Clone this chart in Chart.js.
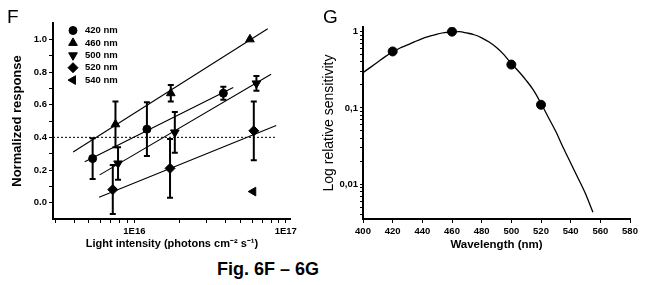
<!DOCTYPE html>
<html>
<head>
<meta charset="utf-8">
<script src="https://cdn.jsdelivr.net/npm/chart.js@4.4.1/dist/chart.umd.min.js"></script>
<style>
  html, body { margin: 0; padding: 0; background: #fff; }
  body { width: 649px; height: 285px; position: relative; overflow: hidden;
         font-family: 'Liberation Sans', Arial, sans-serif; color: #000; }
  #panelF { position: absolute; left: 0; top: 0; }
  #panelG { position: absolute; left: 300px; top: 0; }
  .letter { position: absolute; font-size: 19px; line-height: 1; }
  #caption { position: absolute; left: 168px; top: 260px; width: 200px; text-align: center;
             font-size: 18px; font-weight: bold; line-height: 1; }
</style>
</head>
<body>
<canvas id="panelF" width="300" height="255"></canvas>
<canvas id="panelG" width="349" height="255"></canvas>
<div class="letter" style="left:7px; top:7px;">F</div>
<div class="letter" style="left:323px; top:7px;">G</div>
<div id="caption">Fig. 6F – 6G</div>
<script>
// ---- panel F data ----
const seriesNames = ['420 nm', '460 nm', '500 nm', '520 nm', '540 nm'];

const intensity420 = [5.3e15, 1.21e16, 3.87e16];
const response420  = [0.27, 0.45, 0.67];
const error420     = [0.125, 0.165, 0.04];

const intensity460 = [7.5e15, 1.74e16, 5.8e16];
const response460  = [0.48, 0.67, 1.0];
const error460     = [0.14, 0.05, 0];

const intensity500 = [7.8e15, 1.85e16, 6.4e16];
const response500  = [0.24, 0.43, 0.73];
const error500     = [0.1, 0.125, 0.045];

const intensity520 = [7.2e15, 1.72e16, 6.15e16];
const response520  = [0.08, 0.21, 0.44];
const error520     = [0.15, 0.18, 0.18];

const intensity540 = [6.1e16];
const response540  = [0.068];
const error540     = [0];

// regression lines, end points
const fitX420 = [4.7e15, 4.5e16];  const fitY420 = [0.25, 0.705];
const fitX460 = [3.94e15, 7.6e16]; const fitY460 = [0.31, 1.065];
const fitX500 = [5.9e15, 8.0e16];  const fitY500 = [0.17, 0.786];
const fitX520 = [5.85e15, 8.65e16]; const fitY520 = [0.033, 0.472];

// threshold (dotted)
const thresholdX = [2.9e15, 8.6e16];
const thresholdY = [0.4, 0.4];

const xLabelsF = { 1e16: '1E16', 1e17: '1E17' };
const yLabelsF = ['0.0', '0.2', '0.4', '0.6', '0.8', '1.0'];

// ---- panel G data ----
const curveWavelength  = [400, 405, 410, 415, 420, 425, 430, 435, 440, 445, 450, 455, 460, 465,
                          470, 475, 480, 485, 490, 495, 500, 505, 510, 515, 520, 525, 530, 535,
                          540, 545, 550, 555];
const curveSensitivity = [0.29, 0.34, 0.40, 0.47, 0.54, 0.61, 0.67, 0.74, 0.81, 0.87, 0.93, 0.97,
                          0.99, 1.0, 0.96, 0.91, 0.83, 0.73, 0.62, 0.50, 0.38, 0.30, 0.23, 0.17,
                          0.115, 0.075, 0.049, 0.030, 0.019, 0.012, 0.0075, 0.0043];
const pointWavelength  = [420, 460, 500, 520];
const pointSensitivity = [0.55, 1.0, 0.37, 0.11];
const yLabelsG = { 1: '1', 0.1: '0,1', 0.01: '0,01' };

Chart.defaults.font.family = "'Liberation Sans', Arial, sans-serif";
Chart.defaults.color = '#000';

const tickFont = { size: 9.5, weight: 'bold' };

function pairs(xs, ys) { return xs.map((x, i) => ({ x: x, y: ys[i] })); }

function markerSet(label, xs, ys, errs, style, rot, r) {
  return {
    label: label, data: pairs(xs, ys), errors: errs, showLine: false,
    pointStyle: style, rotation: rot, pointRadius: r, pointHoverRadius: r,
    backgroundColor: '#000', borderColor: '#000', borderWidth: 1, inLegend: true
  };
}
function lineSet(xs, ys, dash) {
  return {
    data: pairs(xs, ys), showLine: true, pointRadius: 0, borderColor: '#000',
    borderWidth: dash ? 1 : 1.1, borderDash: dash || [], fill: false
  };
}

// error bars drawn through the chart scales
const errorBars = {
  id: 'errorBars',
  beforeDatasetsDraw(chart) {
    const ctx = chart.ctx, y = chart.scales.y;
    chart.data.datasets.forEach((ds, i) => {
      if (!ds.errors) return;
      const meta = chart.getDatasetMeta(i);
      ds.data.forEach((p, j) => {
        const e = ds.errors[j];
        if (!e) return;
        const px = meta.data[j].x;
        const top = y.getPixelForValue(p.y + e), bot = y.getPixelForValue(p.y - e);
        ctx.save();
        ctx.strokeStyle = '#000';
        ctx.lineWidth = 2;
        ctx.beginPath();
        ctx.moveTo(px, top); ctx.lineTo(px, bot);
        ctx.moveTo(px - 3, top); ctx.lineTo(px + 3, top);
        ctx.moveTo(px - 3, bot); ctx.lineTo(px + 3, bot);
        ctx.stroke();
        ctx.restore();
      });
    });
  }
};

// legend in the top-left corner of the plot
const markerLegend = {
  id: 'markerLegend',
  afterDraw(chart, args, opts) {
    const ctx = chart.ctx;
    let row = 0;
    chart.data.datasets.forEach(ds => {
      if (!ds.inLegend) return;
      const yy = opts.top + row * opts.step;
      Chart.helpers.drawPoint(ctx, {
        pointStyle: ds.pointStyle, rotation: ds.rotation, radius: ds.pointRadius, borderWidth: 1
      }, opts.markerX, yy);
      ctx.save();
      ctx.fillStyle = '#000';
      ctx.font = "bold 9.5px 'Liberation Sans', Arial, sans-serif";
      ctx.textBaseline = 'middle';
      ctx.fillText(ds.label, opts.textX, yy);
      ctx.restore();
      row++;
    });
  }
};

const yTicksF = [];
for (let k = 0; k <= 10; k++) yTicksF.push(k / 10);
const xTicksF = [];
[1e15, 1e16].forEach(d => { for (let m = 1; m <= 9; m++) { const v = m * d; if (v >= 2.9e15) xTicksF.push(v); } });
xTicksF.push(1e17);

const ctxF = document.getElementById('panelF').getContext('2d');
new Chart(ctxF, {
  type: 'scatter',
  data: {
    datasets: [
      lineSet(thresholdX, thresholdY, [2, 2]),
      lineSet(fitX420, fitY420),
      lineSet(fitX460, fitY460),
      lineSet(fitX500, fitY500),
      lineSet(fitX520, fitY520),
      markerSet(seriesNames[0], intensity420, response420, error420, 'circle', 0, 4),
      markerSet(seriesNames[1], intensity460, response460, error460, 'triangle', 0, 5),
      markerSet(seriesNames[2], intensity500, response500, error500, 'triangle', 180, 5),
      markerSet(seriesNames[3], intensity520, response520, error520, 'rectRot', 0, 5),
      markerSet(seriesNames[4], intensity540, response540, error540, 'triangle', -90, 5)
    ]
  },
  options: {
    responsive: false,
    animation: false,
    devicePixelRatio: 1,
    layout: { padding: { left: 0, top: 23, right: 7, bottom: 0 } },
    plugins: {
      legend: { display: false },
      tooltip: { enabled: false },
      markerLegend: { markerX: 73, textX: 85, top: 30.5, step: 12.4 }
    },
    scales: {
      x: {
        type: 'logarithmic', min: 2.9e15, max: 1.08e17,
        afterBuildTicks: s => { s.ticks = xTicksF.map(v => ({ value: v })); },
        afterFit: s => { s.height = 36; },
        ticks: { autoSkip: false, maxRotation: 0, padding: 3, font: tickFont,
                 callback: v => xLabelsF[v] || '' },
        grid: { drawOnChartArea: false, tickLength: 4, tickColor: '#000' },
        border: { color: '#000', width: 2 },
        title: { display: true, text: 'Light intensity (photons cm⁻² s⁻¹)',
                 font: { size: 11, weight: 'bold' }, padding: { top: 0, bottom: 4 } }
      },
      y: {
        type: 'linear', min: -0.1, max: 1.1,
        afterBuildTicks: s => { s.ticks = yTicksF.map(v => ({ value: v })); },
        afterFit: s => { s.width = 53; },
        ticks: { autoSkip: false, padding: 2, font: tickFont,
                 callback: (v, i) => (i % 2 === 0 ? yLabelsF[i / 2] : '') },
        grid: { drawOnChartArea: false, tickLength: 4, tickColor: '#000' },
        border: { color: '#000', width: 2 },
        title: { display: true, text: 'Normalized response',
                 font: { size: 13, weight: 'bold' }, padding: { top: 10, bottom: 0 } }
      }
    }
  },
  plugins: [errorBars, markerLegend]
});

const yTicksG = [];
[0.001, 0.01, 0.1].forEach(d => { for (let m = 1; m <= 9; m++) { const v = +(m * d).toPrecision(3); if (v >= 0.0035) yTicksG.push(v); } });
yTicksG.push(1);

const ctxG = document.getElementById('panelG').getContext('2d');
new Chart(ctxG, {
  type: 'scatter',
  data: {
    datasets: [
      {
        data: pairs(curveWavelength, curveSensitivity), showLine: true, pointRadius: 0,
        borderColor: '#000', borderWidth: 1.3, cubicInterpolationMode: 'monotone', fill: false
      },
      {
        data: pairs(pointWavelength, pointSensitivity), showLine: false, pointStyle: 'circle',
        pointRadius: 4.5, backgroundColor: '#000', borderColor: '#000'
      }
    ]
  },
  options: {
    responsive: false,
    animation: false,
    devicePixelRatio: 1,
    layout: { padding: { left: 0, top: 27, right: 19, bottom: 0 } },
    plugins: { legend: { display: false }, tooltip: { enabled: false } },
    scales: {
      x: {
        type: 'linear', min: 400, max: 580,
        afterFit: s => { s.height = 36; },
        ticks: { stepSize: 20, autoSkip: false, maxRotation: 0, padding: 3, font: tickFont },
        grid: { drawOnChartArea: false, tickLength: 4, tickColor: '#000' },
        border: { color: '#000', width: 2 },
        title: { display: true, text: 'Wavelength (nm)',
                 font: { size: 11.5, weight: 'bold' }, padding: { top: 0, bottom: 3 } }
      },
      y: {
        type: 'logarithmic', min: 0.0035, max: 1.15,
        afterBuildTicks: s => { s.ticks = yTicksG.map(v => ({ value: v })); },
        afterFit: s => { s.width = 63; },
        ticks: { autoSkip: false, padding: 2, font: tickFont,
                 callback: v => yLabelsG[v] || '' },
        grid: { drawOnChartArea: false, tickLength: 3, tickColor: '#000' },
        border: { color: '#000', width: 2 },
        title: { display: true, text: 'Log relative sensitivity',
                 font: { size: 14 }, padding: { top: 21, bottom: 0 } }
      }
    }
  }
});
</script>
</body>
</html>
